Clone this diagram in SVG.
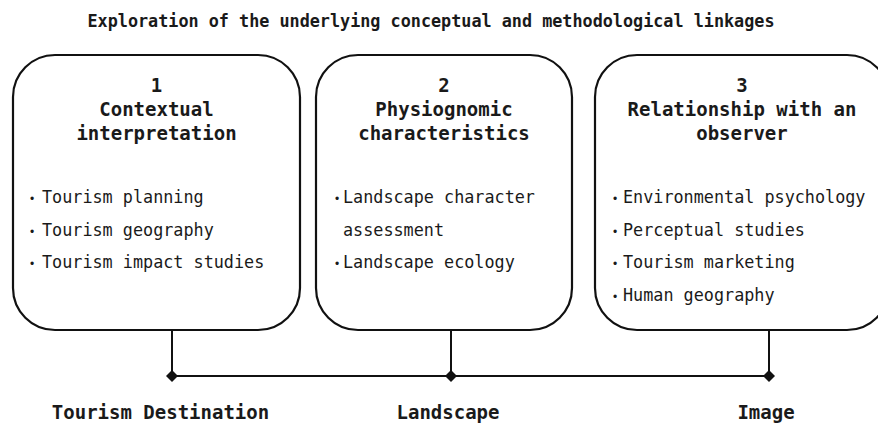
<svg xmlns="http://www.w3.org/2000/svg" width="878" height="426" viewBox="0 0 878 426">
  <style>
    text { font-family: "DejaVu Sans Mono", "Liberation Mono", monospace; fill: #1a1a1a; }
    .title { font-size: 16.8px; font-weight: bold; text-anchor: middle; }
    .head { font-size: 19px; font-weight: bold; text-anchor: middle; }
    .item { font-size: 16.8px; }
    .dot { font-family: "Liberation Sans", sans-serif; font-size: 12px; text-anchor: middle; }
    .label { font-size: 19px; font-weight: bold; text-anchor: middle; }
    .box { fill: #ffffff; stroke: #111111; stroke-width: 2.2; }
    .link { fill: none; stroke: #111111; stroke-width: 2; }
    .joint { fill: #111111; }
  </style>
  <defs>
    <marker id="diamond" markerWidth="14" markerHeight="14" refX="7" refY="7" markerUnits="userSpaceOnUse">
      <path class="joint" d="M7 1 L13 7 L7 13 L1 7 Z"/>
    </marker>
  </defs>

  <rect width="878" height="426" fill="#ffffff"/>

  <text class="title" x="431" y="27">Exploration of the underlying conceptual and methodological linkages</text>

  <g id="connectors">
    <path class="link" d="M172 331 V376"/>
    <path class="link" d="M451 331 V376"/>
    <path class="link" d="M769 331 V376"/>
    <path class="link" d="M172 376 H769" marker-start="url(#diamond)" marker-end="url(#diamond)"/>
    <path class="joint" d="M451 370 L457 376 L451 382 L445 376 Z"/>
  </g>

  <g id="node-contextual">
    <rect class="box" x="13" y="55" width="287" height="275" rx="42" ry="42"/>
    <text class="head" x="156.5" y="92">1</text>
    <text class="head" x="156.5" y="116">Contextual</text>
    <text class="head" x="156.5" y="140">interpretation</text>
    <text class="dot" x="32" y="203">•</text>
    <text class="item" x="42" y="203">Tourism planning</text>
    <text class="dot" x="32" y="235.5">•</text>
    <text class="item" x="42" y="235.5">Tourism geography</text>
    <text class="dot" x="32" y="268">•</text>
    <text class="item" x="42" y="268">Tourism impact studies</text>
  </g>

  <g id="node-physiognomic">
    <rect class="box" x="316" y="55" width="256" height="275" rx="42" ry="42"/>
    <text class="head" x="444" y="92">2</text>
    <text class="head" x="444" y="116">Physiognomic</text>
    <text class="head" x="444" y="140">characteristics</text>
    <text class="dot" x="337" y="203">•</text>
    <text class="item" x="343" y="203">Landscape character</text>
    <text class="item" x="343" y="235.5">assessment</text>
    <text class="dot" x="337" y="268">•</text>
    <text class="item" x="343" y="268">Landscape ecology</text>
  </g>

  <g id="node-observer">
    <rect class="box" x="595" y="55" width="294" height="275" rx="42" ry="42"/>
    <text class="head" x="742" y="92">3</text>
    <text class="head" x="742" y="116">Relationship with an</text>
    <text class="head" x="742" y="140">observer</text>
    <text class="dot" x="615" y="203">•</text>
    <text class="item" x="623" y="203">Environmental psychology</text>
    <text class="dot" x="615" y="235.5">•</text>
    <text class="item" x="623" y="235.5">Perceptual studies</text>
    <text class="dot" x="615" y="268">•</text>
    <text class="item" x="623" y="268">Tourism marketing</text>
    <text class="dot" x="615" y="301">•</text>
    <text class="item" x="623" y="301">Human geography</text>
  </g>

  <g id="labels">
    <text class="label" x="160.5" y="419">Tourism Destination</text>
    <text class="label" x="448" y="419">Landscape</text>
    <text class="label" x="766" y="419">Image</text>
  </g>
</svg>
